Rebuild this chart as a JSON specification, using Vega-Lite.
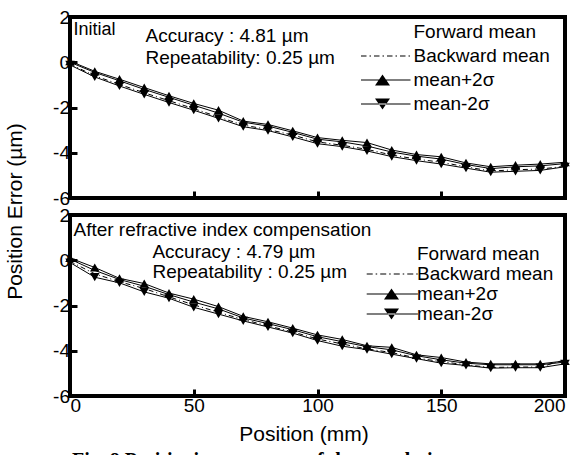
{
  "$schema": "https://vega.github.io/schema/vega-lite/v6.json",
  "padding": {"left": 2, "top": 6, "right": 0, "bottom": 0},
  "bounds": "flush",
  "spacing": 17,
  "datasets": {
    "initial": [
      {"pos": 0, "fwd": 0.00, "bwd": -0.08, "upper": 0.05, "lower": -0.12},
      {"pos": 10, "fwd": -0.45, "bwd": -0.60, "upper": -0.40, "lower": -0.65},
      {"pos": 20, "fwd": -0.82, "bwd": -0.98, "upper": -0.75, "lower": -1.05},
      {"pos": 30, "fwd": -1.20, "bwd": -1.35, "upper": -1.12, "lower": -1.42},
      {"pos": 40, "fwd": -1.55, "bwd": -1.70, "upper": -1.48, "lower": -1.78},
      {"pos": 50, "fwd": -1.90, "bwd": -2.05, "upper": -1.82, "lower": -2.12},
      {"pos": 60, "fwd": -2.25, "bwd": -2.42, "upper": -2.12, "lower": -2.48},
      {"pos": 70, "fwd": -2.65, "bwd": -2.78, "upper": -2.60, "lower": -2.85},
      {"pos": 80, "fwd": -2.82, "bwd": -2.97, "upper": -2.75, "lower": -3.02},
      {"pos": 90, "fwd": -3.10, "bwd": -3.22, "upper": -3.03, "lower": -3.30},
      {"pos": 100, "fwd": -3.40, "bwd": -3.52, "upper": -3.33, "lower": -3.60},
      {"pos": 110, "fwd": -3.52, "bwd": -3.67, "upper": -3.45, "lower": -3.73},
      {"pos": 120, "fwd": -3.70, "bwd": -3.85, "upper": -3.55, "lower": -3.92},
      {"pos": 130, "fwd": -3.97, "bwd": -4.10, "upper": -3.88, "lower": -4.17},
      {"pos": 140, "fwd": -4.15, "bwd": -4.28, "upper": -4.08, "lower": -4.35},
      {"pos": 150, "fwd": -4.28, "bwd": -4.42, "upper": -4.18, "lower": -4.50},
      {"pos": 160, "fwd": -4.52, "bwd": -4.62, "upper": -4.45, "lower": -4.68},
      {"pos": 170, "fwd": -4.70, "bwd": -4.81, "upper": -4.62, "lower": -4.86},
      {"pos": 180, "fwd": -4.62, "bwd": -4.75, "upper": -4.55, "lower": -4.82},
      {"pos": 190, "fwd": -4.58, "bwd": -4.72, "upper": -4.50, "lower": -4.78},
      {"pos": 200, "fwd": -4.48, "bwd": -4.60, "upper": -4.42, "lower": -4.62}
    ],
    "compensated": [
      {"pos": 0, "fwd": 0.05, "bwd": -0.05, "upper": 0.10, "lower": -0.10},
      {"pos": 10, "fwd": -0.45, "bwd": -0.60, "upper": -0.32, "lower": -0.75},
      {"pos": 20, "fwd": -0.85, "bwd": -0.95, "upper": -0.80, "lower": -1.00},
      {"pos": 30, "fwd": -1.15, "bwd": -1.25, "upper": -1.03, "lower": -1.40},
      {"pos": 40, "fwd": -1.52, "bwd": -1.62, "upper": -1.45, "lower": -1.68},
      {"pos": 50, "fwd": -1.85, "bwd": -1.97, "upper": -1.72, "lower": -2.08},
      {"pos": 60, "fwd": -2.15, "bwd": -2.30, "upper": -2.05, "lower": -2.38},
      {"pos": 70, "fwd": -2.55, "bwd": -2.62, "upper": -2.48, "lower": -2.68},
      {"pos": 80, "fwd": -2.80, "bwd": -2.90, "upper": -2.72, "lower": -2.95},
      {"pos": 90, "fwd": -3.07, "bwd": -3.17, "upper": -3.00, "lower": -3.22},
      {"pos": 100, "fwd": -3.38, "bwd": -3.48, "upper": -3.30, "lower": -3.55},
      {"pos": 110, "fwd": -3.60, "bwd": -3.70, "upper": -3.50, "lower": -3.80},
      {"pos": 120, "fwd": -3.82, "bwd": -3.92, "upper": -3.78, "lower": -3.95},
      {"pos": 130, "fwd": -3.96, "bwd": -4.08, "upper": -3.85, "lower": -4.15},
      {"pos": 140, "fwd": -4.22, "bwd": -4.32, "upper": -4.18, "lower": -4.35},
      {"pos": 150, "fwd": -4.40, "bwd": -4.48, "upper": -4.30, "lower": -4.55},
      {"pos": 160, "fwd": -4.55, "bwd": -4.62, "upper": -4.50, "lower": -4.65},
      {"pos": 170, "fwd": -4.62, "bwd": -4.74, "upper": -4.58, "lower": -4.77},
      {"pos": 180, "fwd": -4.62, "bwd": -4.72, "upper": -4.58, "lower": -4.75},
      {"pos": 190, "fwd": -4.62, "bwd": -4.72, "upper": -4.58, "lower": -4.75},
      {"pos": 200, "fwd": -4.50, "bwd": -4.40, "upper": -4.45, "lower": -4.58}
    ],
    "legendKeys": [
      {"key": "Forward mean"},
      {"key": "Backward mean"},
      {"key": "mean+2σ"},
      {"key": "mean-2σ"}
    ],
    "single": [{}]
  },
  "config": {
    "font": "Liberation Sans",
    "view": {"stroke": "black", "strokeWidth": 4},
    "axis": {
      "domain": false,
      "grid": false,
      "labelFont": "Liberation Sans",
      "labelFontSize": 19,
      "labelColor": "black",
      "tickColor": "black",
      "tickSize": -7,
      "tickWidth": 3,
      "titleFont": "Liberation Sans",
      "titleFontSize": 21,
      "titleFontWeight": "normal",
      "titleColor": "black"
    },
    "text": {"font": "Liberation Sans", "fontSize": 19, "fill": "black", "align": "left", "baseline": "middle"},
    "title": {"font": "Liberation Serif", "fontSize": 20, "fontWeight": "bold", "color": "black"}
  },
  "title": {"text": "Fig. 8  Positioning accuracy of the translation stage", "orient": "bottom", "anchor": "middle", "offset": 5},
  "resolve": {"scale": {"shape": "independent"}},
  "vconcat": [
    {
      "width": 495,
      "height": 181,
      "data": {"name": "initial"},
      "layer": [
        {
          "mark": {"type": "line", "color": "black", "strokeWidth": 1},
          "encoding": {
            "x": {"field": "pos", "type": "quantitative", "scale": {"domain": [0, 200], "nice": false},
                  "axis": {"title": null, "labels": false, "values": [0, 50, 100, 150, 200]}},
            "y": {"field": "fwd", "type": "quantitative", "scale": {"domain": [-6, 2], "nice": false},
                  "axis": {"title": "Position Error (µm)", "values": [-6, -4, -2, 0, 2], "labelPadding": 7.5,
                           "labelExpr": "replace(datum.label, '−', '-')", "titlePadding": 27.5, "titleY": 194}}
          }
        },
        {
          "mark": {"type": "line", "color": "black", "strokeWidth": 1, "strokeDash": [5, 3, 1, 3]},
          "encoding": {
            "x": {"field": "pos", "type": "quantitative"},
            "y": {"field": "bwd", "type": "quantitative"}
          }
        },
        {
          "mark": {"type": "line", "color": "black", "strokeWidth": 1,
                   "point": {"shape": "triangle-up", "filled": true, "size": 90, "color": "black"}},
          "encoding": {
            "x": {"field": "pos", "type": "quantitative"},
            "y": {"field": "upper", "type": "quantitative"}
          }
        },
        {
          "mark": {"type": "line", "color": "black", "strokeWidth": 1,
                   "point": {"shape": "triangle-down", "filled": true, "size": 90, "color": "black"}},
          "encoding": {
            "x": {"field": "pos", "type": "quantitative"},
            "y": {"field": "lower", "type": "quantitative"}
          }
        },
        {
          "data": {"name": "legendKeys"},
          "mark": {"type": "point", "opacity": 0, "filled": true, "color": "black"},
          "encoding": {
            "shape": {
              "field": "key", "type": "nominal",
              "scale": {
                "domain": ["Forward mean", "Backward mean", "mean+2σ", "mean-2σ"],
                "range": [
                  "M0,0",
                  "M-3.75,-0.06H-3.2V0.06H-3.75ZM-2.9,-0.06H-2.75V0.06H-2.9ZM-2.45,-0.06H-1.9V0.06H-2.45ZM-1.6,-0.06H-1.45V0.06H-1.6ZM-1.15,-0.06H-0.6V0.06H-1.15ZM-0.3,-0.06H-0.15V0.06H-0.3ZM0.15,-0.06H0.7V0.06H0.15ZM1,-0.06H1.15V0.06H1Z",
                  "M-3.75,-0.06H1.2V0.06H-3.75ZM-2.35,0.55L-1.6,-0.55L-0.85,0.55Z",
                  "M-3.75,-0.06H1.2V0.06H-3.75ZM-2.35,-0.55L-1.6,0.55L-0.85,-0.55Z"
                ]
              },
              "legend": {
                "orient": "none", "legendX": 317.5, "legendY": 4, "title": null, "padding": 0,
                "symbolSize": 400, "labelFontSize": 19, "labelFont": "Liberation Sans", "labelColor": "black",
                "labelOffset": 4, "rowPadding": 3,
                "symbolFillColor": "black", "symbolOpacity": 1
              }
            }
          }
        },
        {
          "data": {"name": "single"},
          "mark": {"type": "text", "text": "Initial", "fontSize": 18},
          "encoding": {"x": {"datum": 1.4, "type": "quantitative"}, "y": {"datum": 1.41, "type": "quantitative"}}
        },
        {
          "data": {"name": "single"},
          "mark": {"type": "text", "text": "Accuracy : 4.81 µm"},
          "encoding": {"x": {"datum": 30.5, "type": "quantitative"}, "y": {"datum": 1.16, "type": "quantitative"}}
        },
        {
          "data": {"name": "single"},
          "mark": {"type": "text", "text": "Repeatability: 0.25 µm"},
          "encoding": {"x": {"datum": 30.5, "type": "quantitative"}, "y": {"datum": 0.2, "type": "quantitative"}}
        }
      ]
    },
    {
      "width": 495,
      "height": 181,
      "data": {"name": "compensated"},
      "layer": [
        {
          "mark": {"type": "line", "color": "black", "strokeWidth": 1},
          "encoding": {
            "x": {"field": "pos", "type": "quantitative", "scale": {"domain": [0, 200], "nice": false},
                  "axis": {"title": "Position (mm)", "values": [0, 50, 100, 150, 200], "labelPadding": 7,
                           "titlePadding": 8, "titleX": 233.5}},
            "y": {"field": "fwd", "type": "quantitative", "scale": {"domain": [-6, 2], "nice": false},
                  "axis": {"title": null, "values": [-6, -4, -2, 0, 2], "labelPadding": 7.5,
                           "labelExpr": "replace(datum.label, '−', '-')"}}
          }
        },
        {
          "mark": {"type": "line", "color": "black", "strokeWidth": 1, "strokeDash": [5, 3, 1, 3]},
          "encoding": {
            "x": {"field": "pos", "type": "quantitative"},
            "y": {"field": "bwd", "type": "quantitative"}
          }
        },
        {
          "mark": {"type": "line", "color": "black", "strokeWidth": 1,
                   "point": {"shape": "triangle-up", "filled": true, "size": 90, "color": "black"}},
          "encoding": {
            "x": {"field": "pos", "type": "quantitative"},
            "y": {"field": "upper", "type": "quantitative"}
          }
        },
        {
          "mark": {"type": "line", "color": "black", "strokeWidth": 1,
                   "point": {"shape": "triangle-down", "filled": true, "size": 90, "color": "black"}},
          "encoding": {
            "x": {"field": "pos", "type": "quantitative"},
            "y": {"field": "lower", "type": "quantitative"}
          }
        },
        {
          "data": {"name": "legendKeys"},
          "mark": {"type": "point", "opacity": 0, "filled": true, "color": "black"},
          "encoding": {
            "shape": {
              "field": "key", "type": "nominal",
              "scale": {
                "domain": ["Forward mean", "Backward mean", "mean+2σ", "mean-2σ"],
                "range": [
                  "M0,0",
                  "M-4.6,-0.07H-3.85V0.07H-4.6ZM-3.48,-0.07H-3.29V0.07H-3.48ZM-2.91,-0.07H-2.16V0.07H-2.91ZM-1.79,-0.07H-1.6V0.07H-1.79ZM-1.22,-0.07H-0.47V0.07H-1.22ZM-0.1,-0.07H0.09V0.07H-0.1ZM0.47,-0.07H1.22V0.07H0.47ZM1.59,-0.07H1.78V0.07H1.59Z",
                  "M-4.6,-0.07H1.8V0.07H-4.6ZM-2.44,0.69L-1.5,-0.69L-0.56,0.69Z",
                  "M-4.6,-0.07H1.8V0.07H-4.6ZM-2.44,-0.69L-1.5,0.69L-0.56,-0.69Z"
                ]
              },
              "legend": {
                "orient": "none", "legendX": 324, "legendY": 29.5, "title": null, "padding": 0,
                "symbolSize": 256, "labelFontSize": 19, "labelFont": "Liberation Sans", "labelColor": "black",
                "labelOffset": 4, "rowPadding": -2,
                "symbolFillColor": "black", "symbolOpacity": 1
              }
            }
          }
        },
        {
          "data": {"name": "single"},
          "mark": {"type": "text", "text": "After refractive index compensation"},
          "encoding": {"x": {"datum": 1.4, "type": "quantitative"}, "y": {"datum": 1.32, "type": "quantitative"}}
        },
        {
          "data": {"name": "single"},
          "mark": {"type": "text", "text": "Accuracy : 4.79 µm"},
          "encoding": {"x": {"datum": 33.3, "type": "quantitative"}, "y": {"datum": 0.37, "type": "quantitative"}}
        },
        {
          "data": {"name": "single"},
          "mark": {"type": "text", "text": "Repeatability : 0.25 µm"},
          "encoding": {"x": {"datum": 33.3, "type": "quantitative"}, "y": {"datum": -0.52, "type": "quantitative"}}
        }
      ]
    }
  ]
}
